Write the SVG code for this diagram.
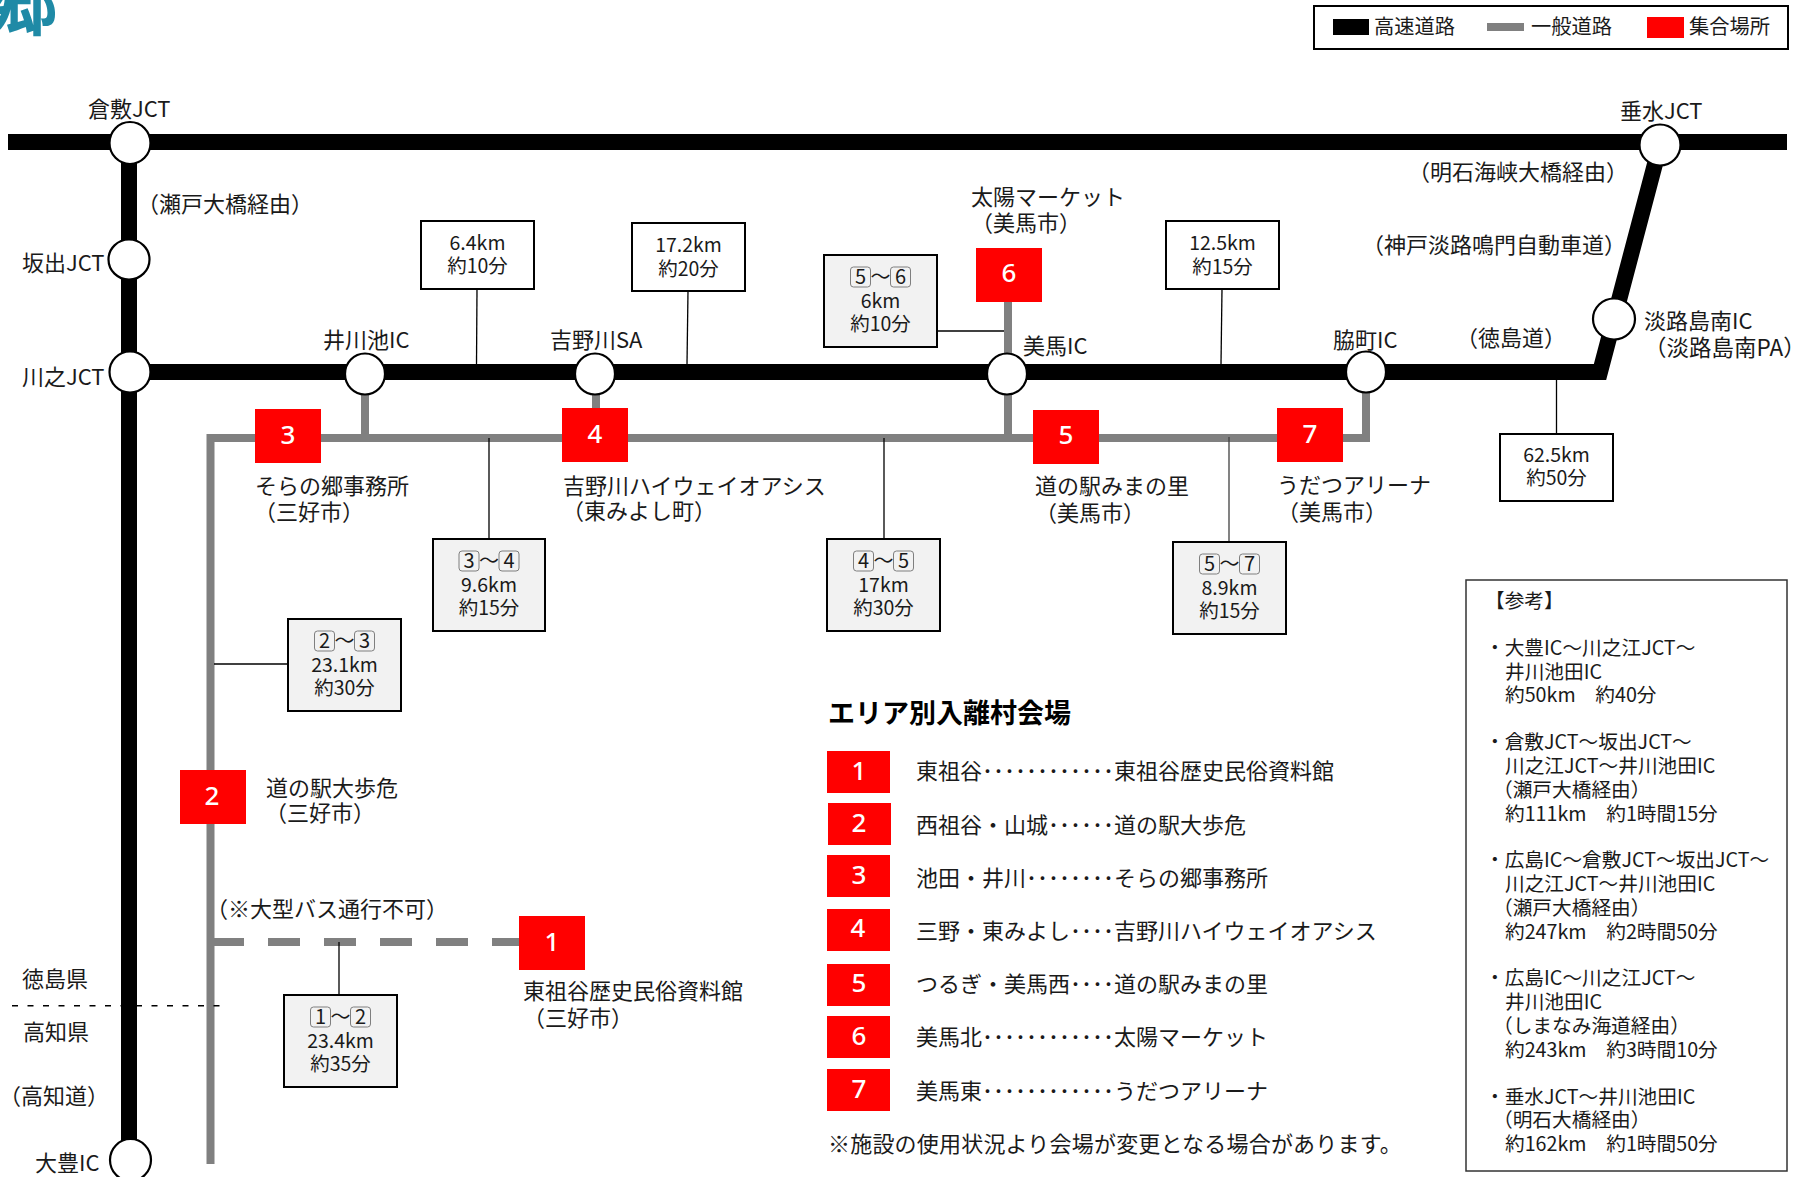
<svg xmlns="http://www.w3.org/2000/svg" width="1807" height="1177" viewBox="0 0 1807 1177">
<defs>
<style>
text{font-family:"Noto Sans CJK JP","Noto Sans",sans-serif;fill:#1a1a1a}
.l{font-size:22px}
.lg{font-size:20.3px}
.r{font-size:19.7px}
.b{font-size:19.5px;text-anchor:middle}
.d{font-size:20px;text-anchor:middle}
.n{font-family:"Noto Sans",sans-serif;font-size:26px;font-weight:500;fill:#fff;text-anchor:middle}
.h{font-size:27px;font-weight:700;fill:#000}
.red{fill:#f00}
.box{fill:#fff;stroke:#000;stroke-width:2}
.gbox{fill:#f2f2f2;stroke:#000;stroke-width:2}
.k{fill:#f2f2f2;stroke:#7f7f7f;stroke-width:1}
.ic{fill:#fff;stroke:#000;stroke-width:2.2}
.hw{fill:none;stroke:#000;stroke-width:16;stroke-linejoin:miter}
.rd{fill:none;stroke:#808080;stroke-width:8;stroke-linejoin:miter}
.th{fill:none;stroke:#000;stroke-width:1.3}
</style>
</defs>
<rect width="1807" height="1177" fill="#fff"/>
<text x="-14" y="29" style="fill:#1f8aa6;font-size:72px;font-weight:700">郷</text>

<g id="legend">
<rect x="1314" y="6" width="474" height="43" class="box"/>
<rect x="1333" y="19" width="36" height="16" fill="#000"/>
<text x="1374" y="34" class="lg">高速道路</text>
<rect x="1487" y="23" width="37" height="8" fill="#808080"/>
<text x="1531" y="34" class="lg">一般道路</text>
<rect x="1647" y="17" width="37" height="21" class="red"/>
<text x="1689" y="34" class="lg">集合場所</text>
</g>

<g id="connectors">
<path class="hw" d="M8,142H1787"/>
<path class="hw" d="M129,142V1150"/>
<path class="hw" d="M130,372H1600L1660,145"/>
<path class="rd" d="M210.5,1164V438H1366V392"/>
<path class="rd" d="M365,392V438"/>
<path class="rd" d="M596,392V438"/>
<path class="rd" d="M1008,300V438"/>
<path class="rd" d="M212,942H519" stroke-dasharray="32 24"/>
<path class="th" d="M12,1005.7H223" stroke-dasharray="6 9.500" style="stroke-width:1.5"/>
<path class="th" d="M477,289L476.500,364"/>
<path class="th" d="M688,291L687,364"/>
<path class="th" d="M937,331H1004"/>
<path class="th" d="M1222,289L1221,364"/>
<path class="th" d="M1556.5,380V434"/>
<path class="th" d="M489,438V539"/>
<path class="th" d="M214,664H288"/>
<path class="th" d="M884,438V539"/>
<path class="th" d="M1229,437V542" style="stroke:#404040"/>
<path class="th" d="M339,942V995"/>
</g>

<g id="ic-kurashiki"><ellipse cx="130" cy="143" rx="20.5" ry="21" class="ic"/><text x="88" y="117" class="l">倉敷JCT</text></g>
<g id="ic-sakaide"><ellipse cx="129" cy="259.500" rx="20.500" ry="20" class="ic"/><text x="22" y="271" class="l">坂出JCT</text></g>
<g id="ic-kawanoe"><ellipse cx="130" cy="372" rx="20.500" ry="20.500" class="ic"/><text x="22" y="385" class="l">川之JCT</text></g>
<g id="ic-ikawa"><ellipse cx="365" cy="374" rx="20" ry="20.500" class="ic"/><text x="323" y="348" class="l">井川池IC</text></g>
<g id="ic-yoshino"><ellipse cx="595" cy="374" rx="20" ry="20.500" class="ic"/><text x="550" y="348" class="l">吉野川SA</text></g>
<g id="ic-mima"><ellipse cx="1007" cy="374" rx="20" ry="20.500" class="ic"/><text x="1023" y="354" class="l">美馬IC</text></g>
<g id="ic-wakimachi"><ellipse cx="1366" cy="372" rx="20" ry="20.500" class="ic"/><text x="1333" y="348" class="l">脇町IC</text></g>
<g id="ic-tarumi"><ellipse cx="1660" cy="145" rx="20.500" ry="20.500" class="ic"/><text x="1620" y="119" class="l">垂水JCT</text></g>
<g id="ic-awaji"><ellipse cx="1614" cy="319" rx="21" ry="20.500" class="ic"/><text x="1644" y="329" class="l">淡路島南IC</text><text x="1644" y="356" class="l" style="font-size:22.500px">（淡路島南PA）</text></g>
<g id="ic-otoyo"><ellipse cx="130.500" cy="1160" rx="20.500" ry="21" class="ic"/><text x="35" y="1171" class="l">大豊IC</text></g>

<g id="road-labels">
<text x="137" y="212" class="l">（瀬戸大橋経由）</text>
<text x="1408" y="180" class="l">（明石海峡大橋経由）</text>
<text x="1362" y="253" class="l">（神戸淡路鳴門自動車道）</text>
<text x="1456" y="346" class="l">（徳島道）</text>
<text x="206" y="917" class="l">（※大型バス通行不可）</text>
<text x="-1" y="1104" class="l">（高知道）</text>
<text x="22" y="987" class="l">徳島県</text>
<text x="23" y="1040" class="l">高知県</text>
</g>

<g id="box-a"><rect x="421" y="221" width="113" height="68" class="box"/><text x="477.500" y="250" class="b">6.4km</text><text x="477.500" y="273" class="b">約10分</text></g>
<g id="box-b"><rect x="632" y="223" width="113" height="68" class="box"/><text x="688.500" y="252" class="b">17.2km</text><text x="688.500" y="275.500" class="b">約20分</text></g>
<g id="box-c"><rect x="1166" y="221" width="113" height="68" class="box"/><text x="1222.500" y="250" class="b">12.5km</text><text x="1222.500" y="274" class="b">約15分</text></g>
<g id="box-d"><rect x="1500" y="434" width="113" height="67" class="box"/><text x="1556.500" y="462" class="b">62.5km</text><text x="1556.500" y="485" class="b">約50分</text></g>

<g id="box-56"><rect x="824" y="255" width="113" height="92" class="gbox"/>
<rect x="850.500" y="267" width="20" height="20" rx="3" class="k"/><text x="860.500" y="284" class="d">5</text><text x="880.500" y="284" class="d">～</text><rect x="890.500" y="267" width="20" height="20" rx="3" class="k"/><text x="900.500" y="284" class="d">6</text>
<text x="880.500" y="308" class="b">6km</text><text x="880.500" y="331" class="b">約10分</text></g>
<g id="box-34"><rect x="433" y="539" width="112" height="92" class="gbox"/>
<rect x="459" y="551" width="20" height="20" rx="3" class="k"/><text x="469" y="568" class="d">3</text><text x="489" y="568" class="d">～</text><rect x="499" y="551" width="20" height="20" rx="3" class="k"/><text x="509" y="568" class="d">4</text>
<text x="489" y="592" class="b">9.6km</text><text x="489" y="615" class="b">約15分</text></g>
<g id="box-23"><rect x="288" y="619" width="113" height="92" class="gbox"/>
<rect x="314.500" y="631" width="20" height="20" rx="3" class="k"/><text x="324.500" y="648" class="d">2</text><text x="344.500" y="648" class="d">～</text><rect x="354.500" y="631" width="20" height="20" rx="3" class="k"/><text x="364.500" y="648" class="d">3</text>
<text x="344.500" y="672" class="b">23.1km</text><text x="344.500" y="695" class="b">約30分</text></g>
<g id="box-45"><rect x="827" y="539" width="113" height="92" class="gbox"/>
<rect x="853.500" y="551" width="20" height="20" rx="3" class="k"/><text x="863.500" y="568" class="d">4</text><text x="883.500" y="568" class="d">～</text><rect x="893.500" y="551" width="20" height="20" rx="3" class="k"/><text x="903.500" y="568" class="d">5</text>
<text x="883.500" y="592" class="b">17km</text><text x="883.500" y="615" class="b">約30分</text></g>
<g id="box-57"><rect x="1173" y="542" width="113" height="92" class="gbox"/>
<rect x="1199.500" y="554" width="20" height="20" rx="3" class="k"/><text x="1209.500" y="571" class="d">5</text><text x="1229.500" y="571" class="d">～</text><rect x="1239.500" y="554" width="20" height="20" rx="3" class="k"/><text x="1249.500" y="571" class="d">7</text>
<text x="1229.500" y="595" class="b">8.9km</text><text x="1229.500" y="618" class="b">約15分</text></g>
<g id="box-12"><rect x="284" y="995" width="113" height="92" class="gbox"/>
<rect x="310.500" y="1007" width="20" height="20" rx="3" class="k"/><text x="320.500" y="1024" class="d">1</text><text x="340.500" y="1024" class="d">～</text><rect x="350.500" y="1007" width="20" height="20" rx="3" class="k"/><text x="360.500" y="1024" class="d">2</text>
<text x="340.500" y="1048" class="b">23.4km</text><text x="340.500" y="1071" class="b">約35分</text></g>

<g id="site-1"><rect x="519" y="916" width="66" height="54" class="red"/><text x="552" y="951" class="n">1</text><text x="523" y="999" class="l">東祖谷歴史民俗資料館</text><text x="523" y="1026" class="l">（三好市）</text></g>
<g id="site-2"><rect x="180" y="770" width="66" height="54" class="red"/><text x="212" y="805" class="n">2</text><text x="266" y="796" class="l">道の駅大歩危</text><text x="265" y="821" class="l">（三好市）</text></g>
<g id="site-3"><rect x="255" y="409" width="66" height="54" class="red"/><text x="288" y="443.500" class="n">3</text><text x="255" y="494" class="l">そらの郷事務所</text><text x="254" y="520" class="l">（三好市）</text></g>
<g id="site-4"><rect x="562" y="408" width="66" height="54" class="red"/><text x="595" y="443" class="n">4</text><text x="563" y="494" class="l">吉野川ハイウェイオアシス</text><text x="562" y="519" class="l">（東みよし町）</text></g>
<g id="site-5"><rect x="1033" y="410" width="66" height="54" class="red"/><text x="1066" y="444" class="n">5</text><text x="1035" y="494" class="l">道の駅みまの里</text><text x="1035" y="521" class="l">（美馬市）</text></g>
<g id="site-6"><rect x="976" y="248" width="66" height="54" class="red"/><text x="1009" y="282" class="n">6</text><text x="971" y="205" class="l">太陽マーケット</text><text x="971" y="231" class="l">（美馬市）</text></g>
<g id="site-7"><rect x="1277" y="408" width="66" height="54" class="red"/><text x="1310" y="443" class="n">7</text><text x="1277" y="493" class="l">うだつアリーナ</text><text x="1277" y="520" class="l">（美馬市）</text></g>

<g id="area-list">
<text x="828" y="723" class="h">エリア別入離村会場</text>
<rect x="827" y="751" width="63" height="42" class="red"/><text x="859" y="780" class="n">1</text><text x="916" y="779" class="l">東祖谷････････････東祖谷歴史民俗資料館</text>
<rect x="828" y="803" width="63" height="42" class="red"/><text x="859" y="832" class="n">2</text><text x="916" y="833" class="l">西祖谷・山城･･････道の駅大歩危</text>
<rect x="827" y="855" width="63" height="42" class="red"/><text x="859" y="884" class="n">3</text><text x="916" y="886" class="l">池田・井川････････そらの郷事務所</text>
<rect x="827" y="909" width="63" height="42" class="red"/><text x="858" y="937" class="n">4</text><text x="916" y="939" class="l">三野・東みよし････吉野川ハイウェイオアシス</text>
<rect x="827" y="964" width="63" height="42" class="red"/><text x="859" y="992" class="n">5</text><text x="916" y="992" class="l">つるぎ・美馬西････道の駅みまの里</text>
<rect x="827" y="1016" width="63" height="42" class="red"/><text x="859" y="1045" class="n">6</text><text x="916" y="1045" class="l">美馬北････････････太陽マーケット</text>
<rect x="827" y="1069" width="63" height="42" class="red"/><text x="859" y="1098" class="n">7</text><text x="916" y="1099" class="l">美馬東････････････うだつアリーナ</text>
<text x="828" y="1152" class="l" style="letter-spacing:.2px">※施設の使用状況より会場が変更となる場合があります。</text>
</g>

<g id="reference">
<rect x="1466" y="580" width="321" height="591" fill="#fff" stroke="#333" stroke-width="1.5"/>
<text x="1485" y="608" class="r">【参考】</text>
<text x="1485" y="655" class="r">・大豊IC～川之江JCT～</text>
<text x="1505" y="679" class="r">井川池田IC</text>
<text x="1505" y="702" class="r">約50km　約40分</text>
<text x="1485" y="749" class="r">・倉敷JCT～坂出JCT～</text>
<text x="1505" y="773" class="r">川之江JCT～井川池田IC</text>
<text x="1493" y="797" class="r">（瀬戸大橋経由）</text>
<text x="1505" y="821" class="r">約111km　約1時間15分</text>
<text x="1485" y="867" class="r">・広島IC～倉敷JCT～坂出JCT～</text>
<text x="1505" y="891" class="r">川之江JCT～井川池田IC</text>
<text x="1493" y="915" class="r">（瀬戸大橋経由）</text>
<text x="1505" y="939" class="r">約247km　約2時間50分</text>
<text x="1485" y="985" class="r">・広島IC～川之江JCT～</text>
<text x="1505" y="1009" class="r">井川池田IC</text>
<text x="1493" y="1033" class="r">（しまなみ海道経由）</text>
<text x="1505" y="1057" class="r">約243km　約3時間10分</text>
<text x="1485" y="1104" class="r">・垂水JCT～井川池田IC</text>
<text x="1493" y="1127" class="r">（明石大橋経由）</text>
<text x="1505" y="1151" class="r">約162km　約1時間50分</text>
</g>
</svg>
